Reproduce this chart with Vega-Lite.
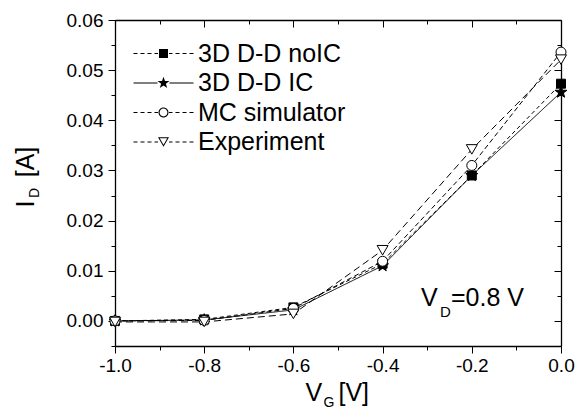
{
  "$schema": "https://vega.github.io/schema/vega-lite/v6.json",
  "width": 446,
  "height": 326,
  "autosize": {"type": "none"},
  "padding": {"left": 115, "top": 20, "right": 22, "bottom": 62},
  "background": "white",
  "config": {
    "view": {"stroke": null},
    "font": "Liberation Sans",
    "axis": {
      "labelFont": "Liberation Sans",
      "titleFont": "Liberation Sans",
      "labelColor": "black",
      "titleColor": "black",
      "tickColor": "black",
      "domainColor": "black",
      "titleFontWeight": "normal",
      "labelFontSize": 19,
      "grid": false,
      "tickWidth": 1,
      "domainWidth": 1.3
    },
    "legend": {"labelFont": "Liberation Sans"}
  },
  "datasets": {
    "main": [
      {"vg": -1.0, "id": 0.0, "series": "3D D-D noIC"},
      {"vg": -0.8, "id": 0.0003, "series": "3D D-D noIC"},
      {"vg": -0.6, "id": 0.0027, "series": "3D D-D noIC"},
      {"vg": -0.4, "id": 0.0114, "series": "3D D-D noIC"},
      {"vg": -0.2, "id": 0.0290, "series": "3D D-D noIC"},
      {"vg": 0.0, "id": 0.0473, "series": "3D D-D noIC"},
      {"vg": -1.0, "id": 0.0, "series": "3D D-D IC"},
      {"vg": -0.8, "id": 0.0002, "series": "3D D-D IC"},
      {"vg": -0.6, "id": 0.0022, "series": "3D D-D IC"},
      {"vg": -0.4, "id": 0.0110, "series": "3D D-D IC"},
      {"vg": -0.2, "id": 0.0290, "series": "3D D-D IC"},
      {"vg": 0.0, "id": 0.0456, "series": "3D D-D IC"},
      {"vg": -1.0, "id": 0.0, "series": "MC simulator"},
      {"vg": -0.8, "id": 0.0001, "series": "MC simulator"},
      {"vg": -0.6, "id": 0.0025, "series": "MC simulator"},
      {"vg": -0.4, "id": 0.0119, "series": "MC simulator"},
      {"vg": -0.2, "id": 0.0310, "series": "MC simulator"},
      {"vg": 0.0, "id": 0.0536, "series": "MC simulator"},
      {"vg": -1.0, "id": -0.0002, "series": "Experiment"},
      {"vg": -0.8, "id": -0.0002, "series": "Experiment"},
      {"vg": -0.6, "id": 0.0014, "series": "Experiment"},
      {"vg": -0.4, "id": 0.0141, "series": "Experiment"},
      {"vg": -0.2, "id": 0.0342, "series": "Experiment"},
      {"vg": 0.0, "id": 0.0521, "series": "Experiment"}
    ],
    "annot": [
      {"x": -0.3139, "y": 0.00297, "t": "V"},
      {"x": -0.2466, "y": 0.00297, "t": "=0.8 V"}
    ],
    "annotsub": [
      {"x": -0.2713, "y": 0.00078, "t": "D"}
    ]
  },
  "resolve": {
    "scale": {"shape": "independent"},
    "axis": {"x": "independent", "y": "independent"}
  },
  "layer": [
    {
      "data": {"name": "main"},
      "mark": {"type": "line", "color": "black", "strokeWidth": 1},
      "encoding": {
        "x": {
          "field": "vg", "type": "quantitative",
          "scale": {"domain": [-1.0, 0.0], "nice": false, "zero": false},
          "axis": {
            "orient": "bottom",
            "values": [-1.0, -0.8, -0.6, -0.4, -0.2, 0.0],
            "format": ".1f",
            "labelExpr": "replace(datum.label, '\u2212', '-')",
            "labelFlush": false,
            "labelOverlap": false,
            "tickSize": 7,
            "labelPadding": 3,
            "title": "V",
            "titleFontSize": 25,
            "titleAlign": "left",
            "titleBaseline": "alphabetic",
            "titleX": 190,
            "titleY": 54
          }
        },
        "y": {
          "field": "id", "type": "quantitative",
          "scale": {"domain": [-0.005, 0.06], "nice": false, "zero": false},
          "axis": {
            "orient": "left",
            "values": [0, 0.01, 0.02, 0.03, 0.04, 0.05, 0.06],
            "format": ".2f",
            "labelFlush": false,
            "labelOverlap": false,
            "tickSize": 7,
            "labelPadding": 5,
            "title": "I",
            "titleFontSize": 25,
            "titleAngle": 270,
            "titleBaseline": "alphabetic",
            "titleX": -82,
            "titleY": 183.5
          }
        },
        "strokeDash": {
          "field": "series", "type": "nominal",
          "scale": {
            "domain": ["3D D-D noIC", "3D D-D IC", "MC simulator", "Experiment"],
            "range": [[4, 3], [1, 0], [5, 3], [7, 4]]
          },
          "legend": null
        }
      }
    },
    {
      "data": {"name": "main"},
      "mark": {"type": "point", "stroke": "black", "strokeWidth": 1, "opacity": 1, "size": 100},
      "encoding": {
        "x": {
          "field": "vg", "type": "quantitative",
          "axis": {"orient": "top", "values": [-1.0, -0.8, -0.6, -0.4, -0.2, 0.0], "labels": false, "tickSize": -7, "title": null}
        },
        "y": {
          "field": "id", "type": "quantitative",
          "axis": {"orient": "right", "values": [0, 0.01, 0.02, 0.03, 0.04, 0.05, 0.06], "labels": false, "tickSize": -7, "title": null}
        },
        "shape": {
          "field": "series", "type": "nominal",
          "scale": {
            "domain": ["3D D-D noIC", "3D D-D IC", "MC simulator", "Experiment"],
            "range": [
              "M-0.9,-0.9L0.9,-0.9L0.9,0.9L-0.9,0.9Z",
              "M0,-1.25L0.294,-0.405L1.189,-0.386L0.476,0.155L0.735,1.011L0,0.5L-0.735,1.011L-0.476,0.155L-1.189,-0.386L-0.294,-0.405Z",
              "M1,0A1,1,0,1,1,-1,0A1,1,0,1,1,1,0Z",
              "M-1.1,-0.95L1.1,-0.95L0,0.95Z"
            ]
          },
          "legend": null
        },
        "fill": {
          "field": "series", "type": "nominal",
          "scale": {
            "domain": ["3D D-D noIC", "3D D-D IC", "MC simulator", "Experiment"],
            "range": ["black", "black", "white", "white"]
          },
          "legend": null
        }
      }
    },
    {
      "data": {"name": "annot"},
      "mark": {"type": "text", "align": "left", "baseline": "alphabetic", "fontSize": 25, "color": "black", "font": "Liberation Sans"},
      "encoding": {
        "x": {
          "field": "x", "type": "quantitative",
          "axis": {"orient": "bottom", "values": [-0.9, -0.7, -0.5, -0.3, -0.1], "labels": false, "domain": false, "tickSize": 4, "title": "[V]", "titleFontSize": 25, "titleAlign": "left", "titleBaseline": "alphabetic", "titleX": 223, "titleY": 54}
        },
        "y": {
          "field": "y", "type": "quantitative",
          "axis": {"orient": "left", "values": [-0.005, 0.005, 0.015, 0.025, 0.035, 0.045, 0.055], "labels": false, "domain": false, "tickSize": 4, "title": "[A]", "titleFontSize": 25, "titleAngle": 270, "titleBaseline": "alphabetic", "titleX": -82, "titleY": 141.5}
        },
        "text": {"field": "t"}
      }
    },
    {
      "data": {"name": "annotsub"},
      "mark": {"type": "text", "align": "left", "baseline": "alphabetic", "fontSize": 15, "color": "black", "font": "Liberation Sans"},
      "encoding": {
        "x": {
          "field": "x", "type": "quantitative",
          "axis": {"orient": "top", "values": [-0.9, -0.7, -0.5, -0.3, -0.1], "labels": false, "domain": false, "tickSize": -4, "title": null}
        },
        "y": {
          "field": "y", "type": "quantitative",
          "axis": {"orient": "right", "values": [-0.005, 0.005, 0.015, 0.025, 0.035, 0.045, 0.055], "labels": false, "domain": false, "tickSize": -4, "title": null}
        },
        "text": {"field": "t"}
      }
    },
    {
      "data": {"name": "main"},
      "transform": [{"filter": "false"}],
      "mark": {"type": "point", "filled": true, "color": "black", "opacity": 1},
      "encoding": {
        "x": {
          "field": "vg", "type": "quantitative",
          "axis": {"orient": "bottom", "domain": false, "ticks": false, "labels": false, "title": "G", "titleFontSize": 14, "titleAlign": "left", "titleBaseline": "alphabetic", "titleX": 208, "titleY": 60}
        },
        "y": {
          "field": "id", "type": "quantitative",
          "axis": {"orient": "left", "domain": false, "ticks": false, "labels": false, "title": "D", "titleFontSize": 14, "titleAngle": 270, "titleBaseline": "alphabetic", "titleX": -77, "titleY": 172.5}
        },
        "shape": {
          "field": "series", "type": "nominal",
          "scale": {
            "domain": ["3D D-D noIC", "3D D-D IC", "MC simulator", "Experiment"],
            "range": [
              "M-0.9,-0.9L0.9,-0.9L0.9,0.9L-0.9,0.9ZM-6,-0.1L-5.2,-0.1L-5.2,0.1L-6,0.1ZM-4.6,-0.1L-3.8,-0.1L-3.8,0.1L-4.6,0.1ZM-3.2,-0.1L-2.4,-0.1L-2.4,0.1L-3.2,0.1ZM-1.8,-0.1L-1.1,-0.1L-1.1,0.1L-1.8,0.1ZM1.1,-0.1L1.8,-0.1L1.8,0.1L1.1,0.1ZM2.4,-0.1L3.2,-0.1L3.2,0.1L2.4,0.1ZM3.8,-0.1L4.6,-0.1L4.6,0.1L3.8,0.1ZM5.2,-0.1L6,-0.1L6,0.1L5.2,0.1Z",
              "M0,-1.25L0.294,-0.405L1.189,-0.386L0.476,0.155L0.735,1.011L0,0.5L-0.735,1.011L-0.476,0.155L-1.189,-0.386L-0.294,-0.405ZM-6,-0.1L-1.2,-0.1L-1.2,0.1L-6,0.1ZM1.2,-0.1L6,-0.1L6,0.1L1.2,0.1Z",
              "M1,0A1,1,0,1,1,-1,0A1,1,0,1,1,1,0ZM0.78,0A0.78,0.78,0,1,0,-0.78,0A0.78,0.78,0,1,0,0.78,0ZM-6,-0.1L-5.2,-0.1L-5.2,0.1L-6,0.1ZM-4.6,-0.1L-3.8,-0.1L-3.8,0.1L-4.6,0.1ZM-3.2,-0.1L-2.4,-0.1L-2.4,0.1L-3.2,0.1ZM-1.8,-0.1L-1.1,-0.1L-1.1,0.1L-1.8,0.1ZM1.1,-0.1L1.8,-0.1L1.8,0.1L1.1,0.1ZM2.4,-0.1L3.2,-0.1L3.2,0.1L2.4,0.1ZM3.8,-0.1L4.6,-0.1L4.6,0.1L3.8,0.1ZM5.2,-0.1L6,-0.1L6,0.1L5.2,0.1Z",
              "M-1.1,-0.95L1.1,-0.95L0,0.95ZM-0.754,-0.75L0,0.551L0.754,-0.75ZM-6,-0.1L-5.2,-0.1L-5.2,0.1L-6,0.1ZM-4.6,-0.1L-3.8,-0.1L-3.8,0.1L-4.6,0.1ZM-3.2,-0.1L-2.4,-0.1L-2.4,0.1L-3.2,0.1ZM-1.8,-0.1L-1.1,-0.1L-1.1,0.1L-1.8,0.1ZM1.1,-0.1L1.8,-0.1L1.8,0.1L1.1,0.1ZM2.4,-0.1L3.2,-0.1L3.2,0.1L2.4,0.1ZM3.8,-0.1L4.6,-0.1L4.6,0.1L3.8,0.1ZM5.2,-0.1L6,-0.1L6,0.1L5.2,0.1Z"
            ]
          },
          "legend": {
            "orient": "none",
            "legendX": 36,
            "legendY": 21,
            "title": null,
            "padding": 0,
            "labelFontSize": 25,
            "labelColor": "black",
            "labelOffset": 22,
            "rowPadding": 3.5,
            "symbolSize": 100,
            "symbolStrokeWidth": 0,
            "symbolFillColor": "black",
            "symbolOpacity": 1
          }
        }
      }
    }
  ]
}
